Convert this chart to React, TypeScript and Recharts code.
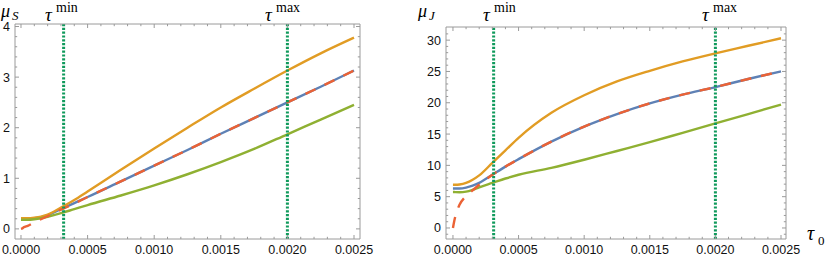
import { LineChart, Line, XAxis, YAxis, ReferenceLine } from 'recharts'

// tau_0 sampling (shared by both panels)
const tau = [0, 0.00001, 0.00002, 0.00005, 0.0001, 0.00015, 0.0002, 0.0003, 0.0004, 0.0005, 0.00075, 0.001, 0.00125, 0.0015, 0.00175, 0.002, 0.00225, 0.0025]

// mu_S panel
const muSBlue = [0.2, 0.2, 0.2, 0.2, 0.21, 0.23, 0.27, 0.39, 0.51, 0.63, 0.94, 1.25, 1.56, 1.88, 2.19, 2.5, 2.81, 3.13]
const muSOrange = [0.21, 0.21, 0.21, 0.21, 0.22, 0.24, 0.28, 0.42, 0.57, 0.74, 1.17, 1.59, 2.0, 2.4, 2.77, 3.13, 3.47, 3.78]
const muSGreen = [0.18, 0.18, 0.18, 0.18, 0.19, 0.21, 0.24, 0.31, 0.39, 0.47, 0.66, 0.86, 1.08, 1.32, 1.58, 1.87, 2.16, 2.45]
const muSRed = [0, 0.01, 0.03, 0.06, 0.13, 0.19, 0.25, 0.38, 0.5, 0.63, 0.94, 1.25, 1.56, 1.88, 2.19, 2.5, 2.81, 3.13]

// mu_J panel
const muJBlue = [6.3, 6.3, 6.3, 6.3, 6.45, 6.75, 7.2, 8.5, 9.8, 11.0, 13.8, 16.2, 18.2, 19.9, 21.3, 22.5, 23.8, 25.0]
const muJOrange = [6.9, 6.9, 6.9, 6.95, 7.2, 7.7, 8.4, 10.4, 12.4, 14.4, 18.4, 21.2, 23.4, 25.1, 26.6, 27.9, 29.1, 30.3]
const muJGreen = [5.75, 5.75, 5.72, 5.7, 5.8, 6.1, 6.5, 7.2, 7.9, 8.5, 9.6, 10.9, 12.3, 13.7, 15.2, 16.7, 18.2, 19.7]
const muJRed = [0, 1.1, 2.0, 3.7, 5.1, 6.0, 6.9, 8.5, 9.8, 11.0, 13.8, 16.2, 18.2, 19.9, 21.3, 22.5, 23.8, 25.0]

const xMajor = [0, 0.0005, 0.001, 0.0015, 0.002, 0.0025]
const xMinor = Array.from({ length: 26 }, (_, i) => +(i * 0.0001).toFixed(4))
const sMajor = [0, 1, 2, 3, 4]
const sMinor = Array.from({ length: 21 }, (_, i) => +(i * 0.2).toFixed(1))
const jMajor = [0, 5, 10, 15, 20, 25, 30]
const jMinor = Array.from({ length: 33 }, (_, i) => i - 1)

const tauMinS = 0.00032
const tauMinJ = 0.00031
const tauMax = 0.002

const dataS = tau.map((t, i) => ({ t, blue: muSBlue[i], orange: muSOrange[i], green: muSGreen[i], red: muSRed[i] }))
const dataJ = tau.map((t, i) => ({ t, blue: muJBlue[i], orange: muJOrange[i], green: muJGreen[i], red: muJRed[i] }))

const FRAME = '#9a9a9a'
const DOT = '#109a5c'
const tickFont = { fontFamily: 'Liberation Sans, Arial, sans-serif', fontSize: 12.5, fill: '#111' }

const isMajor = (v: number, majors: number[]) => majors.some(m => Math.abs(m - v) < 1e-9)

function FrameTick(props: any) {
  const { x, y, payload, side, majors, fmt } = props
  const major = isMajor(payload.value, majors)
  const len = major ? 4 : 2.2
  if (side === 'bottom') {
    return (
      <g>
        <line x1={x} x2={x} y1={y} y2={y - len} stroke={FRAME} />
        {major && fmt && <text x={x} y={y + 15} textAnchor="middle" {...tickFont}>{fmt(payload.value)}</text>}
      </g>
    )
  }
  if (side === 'top') return <line x1={x} x2={x} y1={y} y2={y + len} stroke={FRAME} />
  if (side === 'left') {
    return (
      <g>
        <line x1={x} x2={x + len} y1={y} y2={y} stroke={FRAME} />
        {major && fmt && <text x={x - 5} y={y + 4.5} textAnchor="end" {...tickFont}>{fmt(payload.value)}</text>}
      </g>
    )
  }
  return <line x1={x} x2={x - len} y1={y} y2={y} stroke={FRAME} />
}

function Panel({ data, width, margin, xDomain, yDomain, yMajor, yMinor, tauMin }: any) {
  return (
    <LineChart width={width} height={257} data={data} margin={margin}>
      <XAxis dataKey="t" type="number" domain={xDomain} allowDataOverflow ticks={xMinor} interval={0} height={1}
        tickSize={0} tickMargin={0} tickLine={false} axisLine={{ stroke: FRAME }}
        tick={<FrameTick side="bottom" majors={xMajor} fmt={(v: number) => v.toFixed(4)} />} />
      <XAxis xAxisId="top" orientation="top" dataKey="t" type="number" domain={xDomain} allowDataOverflow ticks={xMinor} interval={0} height={1}
        tickSize={0} tickMargin={0} tickLine={false} axisLine={{ stroke: FRAME }}
        tick={<FrameTick side="top" majors={xMajor} />} />
      <YAxis type="number" domain={yDomain} allowDataOverflow ticks={yMinor} interval={0} width={1}
        tickSize={0} tickMargin={0} tickLine={false} axisLine={{ stroke: FRAME }}
        tick={<FrameTick side="left" majors={yMajor} fmt={(v: number) => String(v)} />} />
      <YAxis yAxisId="right" orientation="right" type="number" domain={yDomain} allowDataOverflow ticks={yMinor} interval={0} width={1}
        tickSize={0} tickMargin={0} tickLine={false} axisLine={{ stroke: FRAME }}
        tick={<FrameTick side="right" majors={yMajor} />} />
      <Line dataKey="blue" type="monotone" stroke="#5e81b5" strokeWidth={2.4} dot={false} isAnimationActive={false} />
      <Line dataKey="orange" type="monotone" stroke="#e19c24" strokeWidth={2.4} dot={false} isAnimationActive={false} />
      <Line dataKey="green" type="monotone" stroke="#8fb032" strokeWidth={2.4} dot={false} isAnimationActive={false} />
      <Line dataKey="red" type="monotone" stroke="#eb6235" strokeWidth={2.4} strokeDasharray="11 10" dot={false} isAnimationActive={false} />
      <ReferenceLine x={tauMin} stroke={DOT} strokeWidth={3} strokeDasharray="2.2 1.6" />
      <ReferenceLine x={tauMax} stroke={DOT} strokeWidth={3} strokeDasharray="2.2 1.6" />
    </LineChart>
  )
}

const serif = "'Liberation Serif', 'DejaVu Serif', serif"

function Labels() {
  const tauMark = (x: number, sup: string) => (
    <g>
      <text x={x} y={21} fontFamily={serif} fontStyle="italic" fontSize={19}>τ</text>
      <text x={x + 11} y={12} fontFamily={serif} fontSize={14}>{sup}</text>
    </g>
  )
  return (
    <svg width={830} height={257} style={{ position: 'absolute', left: 0, top: 0, pointerEvents: 'none' }}>
      <text x={1} y={17} fontFamily={serif} fontStyle="italic" fontSize={18}>μ</text>
      <text x={12} y={20} fontFamily={serif} fontStyle="italic" fontSize={13}>S</text>
      {tauMark(45, 'min')}
      {tauMark(265, 'max')}
      <text x={418} y={17} fontFamily={serif} fontStyle="italic" fontSize={18}>μ</text>
      <text x={429} y={20} fontFamily={serif} fontStyle="italic" fontSize={13}>J</text>
      {tauMark(483, 'min')}
      {tauMark(702, 'max')}
      <text x={807} y={240} fontFamily={serif} fontStyle="italic" fontSize={20}>τ</text>
      <text x={818} y={245} fontFamily={serif} fontSize={13}>0</text>
    </svg>
  )
}

export default function App() {
  return (
    <div style={{ position: 'absolute', left: 0, top: 0, width: 830, height: 257, background: '#fff' }}>
      <div style={{ position: 'absolute', left: 0, top: 0 }}>
        <Panel data={dataS} width={400} margin={{ top: 23, right: 39, bottom: 17, left: 14 }}
          xDomain={[-0.000045, 0.002545]} yDomain={[-0.2, 4.05]} yMajor={sMajor} yMinor={sMinor} tauMin={tauMinS} />
      </div>
      <div style={{ position: 'absolute', left: 400, top: 0 }}>
        <Panel data={dataJ} width={430} margin={{ top: 26, right: 43, bottom: 17, left: 45 }}
          xDomain={[-0.000053, 0.002538]} yDomain={[-1.76, 32.1]} yMajor={jMajor} yMinor={jMinor} tauMin={tauMinJ} />
      </div>
      <Labels />
    </div>
  )
}
